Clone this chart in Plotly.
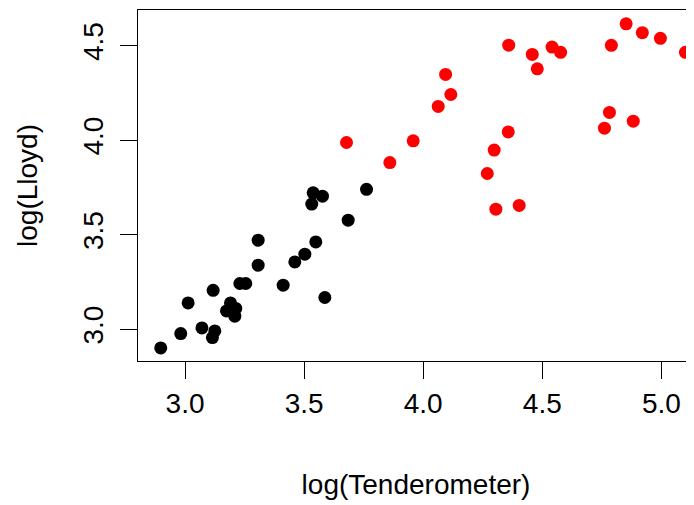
import plotly.graph_objects as go

black_x = [2.898, 2.982, 3.013, 3.071, 3.125, 3.115, 3.118, 3.191, 3.174, 3.213, 3.209,
           3.230, 3.255, 3.307, 3.307, 3.412, 3.461, 3.503, 3.549, 3.587, 3.685, 3.762,
           3.538, 3.577, 3.532]
black_y = [2.901, 2.977, 3.139, 3.007, 2.991, 2.956, 3.206, 3.139, 3.097, 3.110, 3.069,
           3.242, 3.242, 3.339, 3.471, 3.233, 3.356, 3.397, 3.462, 3.168, 3.577, 3.740,
           3.722, 3.704, 3.662]

red_x = [3.678, 3.860, 3.958, 4.063, 4.116, 4.094, 4.269, 4.298, 4.357, 4.305, 4.403,
         4.359, 4.458, 4.479, 4.541, 4.577, 4.782, 4.761, 4.882, 4.790, 4.852, 4.920,
         4.996, 5.101]
red_y = [3.988, 3.882, 3.997, 4.179, 4.242, 4.348, 3.824, 3.948, 4.044, 3.635, 3.655,
         4.503, 4.454, 4.378, 4.493, 4.465, 4.147, 4.064, 4.101, 4.502, 4.616, 4.569,
         4.539, 4.465]

x_ticks = [3.0, 3.5, 4.0, 4.5, 5.0]
y_ticks = [3.0, 3.5, 4.0, 4.5]

FONT = "Liberation Sans, Arial, Helvetica, sans-serif"

fig = go.Figure()
fig.add_trace(go.Scatter(x=black_x, y=black_y, mode="markers",
                         marker=dict(color="black", size=13, line=dict(width=0)),
                         showlegend=False))
fig.add_trace(go.Scatter(x=red_x, y=red_y, mode="markers",
                         marker=dict(color="#FF0000", size=13, line=dict(width=0)),
                         showlegend=False))

# page has an 8px body margin, so the figure is shrunk/shifted to compensate
fig.update_layout(
    width=686, height=497,
    margin=dict(l=130, r=0, t=2, b=144, pad=0),
    paper_bgcolor="white", plot_bgcolor="white",
    font=dict(family=FONT, size=28, color="black"),
    xaxis=dict(range=[2.8025, 5.137], tickvals=x_ticks, ticktext=["3.0", "3.5", "4.0", "4.5", "5.0"],
               ticks="outside", ticklen=17, tickwidth=1.3, tickcolor="black",
               showline=True, linecolor="black", linewidth=1.3, mirror=True,
               showgrid=False, zeroline=False, ticklabelstandoff=0, automargin=False,
               title=dict(text="log(Tenderometer)", font=dict(size=28), standoff=56)),
    yaxis=dict(range=[2.832, 4.689], tickvals=y_ticks, ticktext=["3.0", "3.5", "4.0", "4.5"],
               ticks="outside", ticklen=17, tickwidth=1.3, tickcolor="black", tickangle=-90,
               showline=True, linecolor="black", linewidth=1.3, mirror=False,
               showgrid=False, zeroline=False, ticklabelstandoff=6, automargin=False,
               title=dict(text="log(Lloyd)", font=dict(size=28), standoff=31)),
)

fig.write_html("out.html")
